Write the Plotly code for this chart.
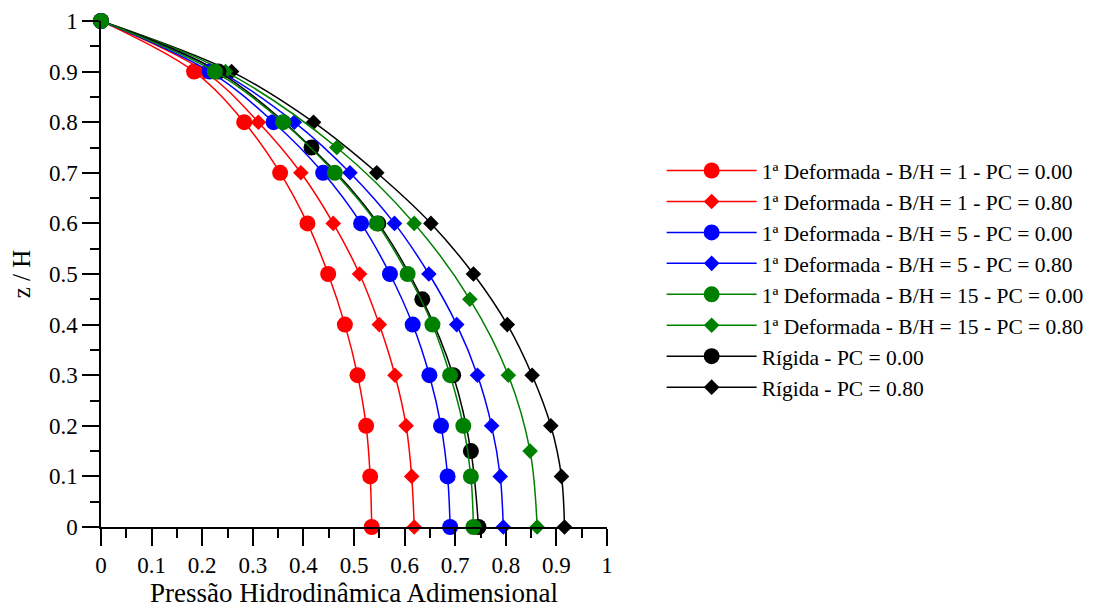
import plotly.graph_objects as go

# Heights (z/H) at which markers are shown
z_step10 = [1.0, 0.9, 0.8, 0.7, 0.6, 0.5, 0.4, 0.3, 0.2, 0.1, 0.0]
z_step15 = [1.0, 0.9, 0.75, 0.6, 0.45, 0.3, 0.15, 0.0]

# Dimensionless hydrodynamic pressure values
red_pc000 = [0.0, 0.184, 0.283, 0.354, 0.408, 0.449, 0.482, 0.507, 0.524, 0.532, 0.535]
red_pc080 = [0.0, 0.205, 0.311, 0.395, 0.459, 0.511, 0.550, 0.581, 0.603, 0.614, 0.619]
blue_pc000 = [0.0, 0.215, 0.341, 0.439, 0.514, 0.571, 0.616, 0.649, 0.672, 0.685, 0.690]
blue_pc080 = [0.0, 0.235, 0.382, 0.492, 0.580, 0.648, 0.703, 0.744, 0.772, 0.789, 0.795]
green_pc000 = [0.0, 0.225, 0.360, 0.462, 0.545, 0.606, 0.655, 0.690, 0.716, 0.731, 0.736]
green_pc080 = [0.0, 0.246, 0.466, 0.619, 0.729, 0.805, 0.848, 0.862]
rigid_pc000 = [0.0, 0.232, 0.416, 0.548, 0.635, 0.696, 0.731, 0.746]
rigid_pc080 = [0.0, 0.258, 0.420, 0.545, 0.652, 0.736, 0.803, 0.852, 0.889, 0.910, 0.916]

tick_vals = [0, 0.1, 0.2, 0.3, 0.4, 0.5, 0.6, 0.7, 0.8, 0.9, 1]
tick_text = ["0", "0.1", "0.2", "0.3", "0.4", "0.5", "0.6", "0.7", "0.8", "0.9", "1"]

names = [
    "1ª Deformada - B/H = 1 - PC = 0.00",
    "1ª Deformada - B/H = 1 - PC = 0.80",
    "1ª Deformada - B/H = 5 - PC = 0.00",
    "1ª Deformada - B/H = 5 - PC = 0.80",
    "1ª Deformada - B/H = 15 - PC = 0.00",
    "1ª Deformada - B/H = 15 - PC = 0.80",
    "Rígida - PC = 0.00",
    "Rígida - PC = 0.80",
]

# drawing order: diamonds first, circles on top
series = [
    (names[7], rigid_pc080, z_step10, "#000000", "diamond", 8),
    (names[1], red_pc080, z_step10, "#FF0000", "diamond", 2),
    (names[3], blue_pc080, z_step10, "#0000FF", "diamond", 4),
    (names[5], green_pc080, z_step15, "#008000", "diamond", 6),
    (names[6], rigid_pc000, z_step15, "#000000", "circle", 7),
    (names[0], red_pc000, z_step10, "#FF0000", "circle", 1),
    (names[2], blue_pc000, z_step10, "#0000FF", "circle", 3),
    (names[4], green_pc000, z_step10, "#008000", "circle", 5),
]

fig = go.Figure()
for name, xs, zs, color, symbol, rank in series:
    fig.add_trace(go.Scatter(
        x=xs, y=zs, name=name, mode="lines+markers",
        line=dict(color=color, width=1.5, shape="spline", smoothing=1.0),
        marker=dict(symbol=symbol, color=color,
                    size=16 if symbol == "circle" else 12),
        legendrank=rank, cliponaxis=False,
    ))

font_family = "Liberation Serif, Times New Roman, serif"

# page body has an 8px default margin, so the figure is 8px smaller
fig.update_layout(
    width=1112, height=603,
    paper_bgcolor="white", plot_bgcolor="white",
    margin=dict(l=93, r=513, t=13, b=84),
    font=dict(family=font_family, size=23, color="#000000"),
    showlegend=True,
    legend=dict(
        x=1.108, y=0.745, xanchor="left", yanchor="top",
        font=dict(family=font_family, size=21.5, color="#000000"),
        bgcolor="rgba(0,0,0,0)", tracegroupgap=0, itemwidth=90,
    ),
)

axis_common = dict(
    range=[0, 1], tickmode="array", tickvals=tick_vals, ticktext=tick_text,
    showgrid=False, zeroline=False, automargin=False,
    showline=True, linecolor="#000000", linewidth=1.5,
    ticks="outside", ticklen=17, tickwidth=1.5, tickcolor="#000000",
    minor=dict(dtick=0.05, ticks="outside", ticklen=9, tickwidth=1.5,
               tickcolor="#000000", showgrid=False),
    tickfont=dict(size=23),
)

fig.update_xaxes(
    **axis_common,
    title=dict(text="Pressão Hidrodinâmica Adimensional", font=dict(size=27), standoff=5),
)
fig.update_yaxes(
    **axis_common,
    title=dict(text="z / H", font=dict(size=25), standoff=11),
)

fig.write_html("out.html")
